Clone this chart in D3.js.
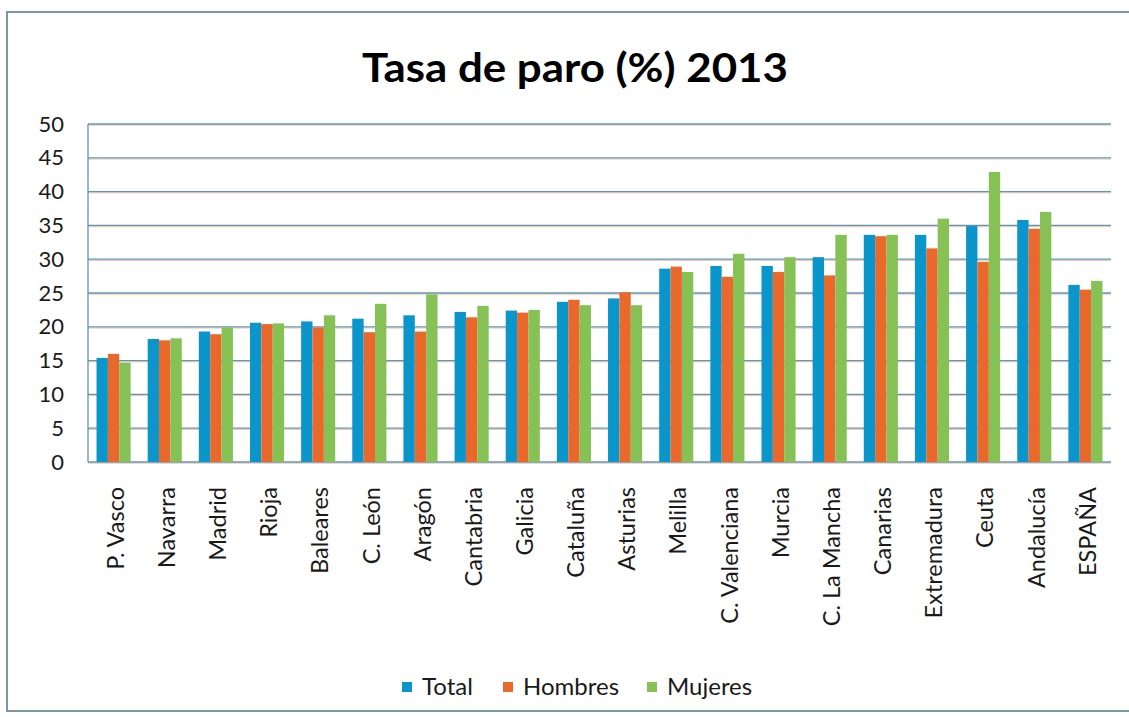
<!DOCTYPE html>
<meta charset="utf-8">
<script src="https://d3js.org/d3.v7.min.js"></script>
<style>
  body { margin: 0; background: #fff; }
  text { font-family: Lato, "Open Sans", sans-serif; fill: #1a1a1a; }
</style>
<div id="my_dataviz"></div>
<script>

// data
var regions = ["P. Vasco", "Navarra", "Madrid", "Rioja", "Baleares", "C. León", "Aragón",
  "Cantabria", "Galicia", "Cataluña", "Asturias", "Melilla", "C. Valenciana", "Murcia",
  "C. La Mancha", "Canarias", "Extremadura", "Ceuta", "Andalucía", "ESPAÑA"];
var total   = [15.4, 18.2, 19.3, 20.6, 20.8, 21.2, 21.7, 22.2, 22.4, 23.7, 24.2, 28.6, 29.0, 29.0, 30.3, 33.6, 33.6, 34.9, 35.8, 26.2];
var hombres = [16.0, 18.0, 18.9, 20.4, 19.9, 19.2, 19.3, 21.4, 22.1, 24.0, 25.1, 28.9, 27.4, 28.1, 27.6, 33.4, 31.6, 29.6, 34.5, 25.5];
var mujeres = [14.7, 18.3, 19.9, 20.5, 21.7, 23.4, 24.8, 23.1, 22.5, 23.2, 23.2, 28.1, 30.8, 30.3, 33.6, 33.6, 36.0, 42.9, 37.0, 26.8];
var seriesNames = ["Total", "Hombres", "Mujeres"];
var yTicks = [0, 5, 10, 15, 20, 25, 30, 35, 40, 45, 50];

var colors = {Total: "#0b96cb", Hombres: "#e8692b", Mujeres: "#86c156"};

var W = 1129, H = 717;
var margin = {top: 124, right: 18, bottom: 255, left: 88},
    width = W - margin.left - margin.right,
    height = H - margin.top - margin.bottom;

var root = d3.select("#my_dataviz")
  .append("svg")
    .attr("width", W)
    .attr("height", H);

// outer frame
root.append("rect")
  .attr("x", 7).attr("y", 12)
  .attr("width", W + 10).attr("height", 699)
  .attr("fill", "none")
  .attr("stroke", "#7c97a6")
  .attr("stroke-width", 2);

// title
root.append("text")
  .attr("x", 575)
  .attr("y", 82)
  .attr("text-anchor", "middle")
  .attr("textLength", 426)
  .attr("lengthAdjust", "spacingAndGlyphs")
  .style("font-size", "40px")
  .style("font-weight", "bold")
  .style("fill", "#000")
  .text("Tasa de paro (%) 2013");

var svg = root.append("g")
  .attr("transform", "translate(" + margin.left + "," + margin.top + ")");

var x = d3.scaleBand()
  .domain(regions)
  .range([0, width])
  .paddingInner(1.5 / 4.5)
  .paddingOuter(0.75 / 4.5);

var x1 = d3.scaleBand()
  .domain(seriesNames)
  .range([0, x.bandwidth()]);

var y = d3.scaleLinear()
  .domain([0, 50])
  .range([height, 0]);

// gridlines (blue with a thin orange fringe, as in the scan)
svg.append("g")
  .selectAll("line.fringe")
  .data(yTicks)
  .enter().append("line")
    .attr("x1", 0).attr("x2", width)
    .attr("y1", function(d) { return y(d) + 1.2; })
    .attr("y2", function(d) { return y(d) + 1.2; })
    .attr("stroke", "#f0a584")
    .attr("stroke-opacity", 0.7)
    .attr("stroke-width", 1);
svg.append("g")
  .selectAll("line.grid")
  .data(yTicks)
  .enter().append("line")
    .attr("x1", 0).attr("x2", width)
    .attr("y1", function(d) { return y(d); })
    .attr("y2", function(d) { return y(d); })
    .attr("stroke", "#5e97b3")
    .attr("stroke-width", 1.3);

// left axis line
svg.append("line")
  .attr("x1", 0).attr("x2", 0)
  .attr("y1", 0).attr("y2", height)
  .attr("stroke", "#5e97b3")
  .attr("stroke-width", 1.3);

// y axis labels
var yAxis = svg.append("g")
  .call(d3.axisLeft(y).tickValues(yTicks).tickSize(0).tickPadding(24));
yAxis.select(".domain").remove();
yAxis.selectAll("text")
  .style("font-size", "22px")
  .style("font-family", "Lato, sans-serif")
  .attr("fill", "#1a1a1a");

// bars
var rows = regions.map(function(r, i) {
  return {region: r, values: [
    {key: "Total", value: total[i]},
    {key: "Hombres", value: hombres[i]},
    {key: "Mujeres", value: mujeres[i]}
  ]};
});

svg.selectAll("g.group")
  .data(rows)
  .enter().append("g")
    .attr("transform", function(d) { return "translate(" + x(d.region) + ",0)"; })
  .selectAll("rect")
  .data(function(d) { return d.values; })
  .enter().append("rect")
    .attr("x", function(d) { return x1(d.key); })
    .attr("width", x1.bandwidth())
    .attr("y", function(d) { return y(d.value); })
    .attr("height", function(d) { return height - y(d.value); })
    .attr("fill", function(d) { return colors[d.key]; });

// x axis labels, rotated
var xAxis = svg.append("g")
  .attr("transform", "translate(0," + height + ")")
  .call(d3.axisBottom(x).tickSize(0));
xAxis.select(".domain").remove();
xAxis.selectAll("text")
  .style("font-size", "23.5px")
  .style("font-family", "Lato, sans-serif")
  .attr("fill", "#1a1a1a")
  .attr("transform", "rotate(-90)")
  .attr("text-anchor", "end")
  .attr("x", -25)
  .attr("y", 2)
  .attr("dy", "0.35em");

// legend
var legendX = [402, 503, 647];
var legend = root.append("g")
  .selectAll("g")
  .data(seriesNames)
  .enter().append("g")
    .attr("transform", function(d, i) { return "translate(" + legendX[i] + ",687)"; });
legend.append("rect")
  .attr("x", 0).attr("y", -5)
  .attr("width", 10).attr("height", 10)
  .attr("fill", function(d) { return colors[d]; });
legend.append("text")
  .attr("x", 20)
  .attr("y", 0)
  .attr("dy", "0.35em")
  .style("font-size", "24px")
  .text(function(d) { return d; });

</script>
